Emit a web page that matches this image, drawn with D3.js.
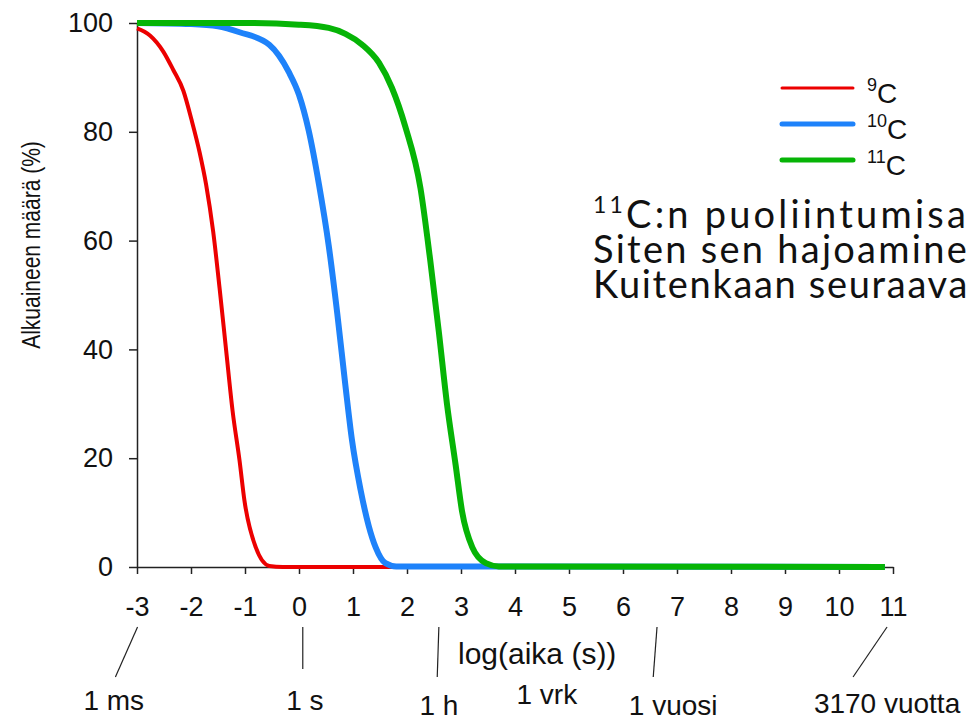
<!DOCTYPE html>
<html>
<head>
<meta charset="utf-8">
<script src="https://cdn.jsdelivr.net/npm/d3@7/dist/d3.min.js"></script>
<style>
  body { margin: 0; background: #fff; }
  svg { display: block; }
  text { font-family: "Liberation Sans", Arial, sans-serif; fill: #111; }
</style>
</head>
<body>
<svg id="chart" width="970" height="721"></svg>
<script>
/* -- data -- */
const xTicks = [-3, -2, -1, 0, 1, 2, 3, 4, 5, 6, 7, 8, 9, 10, 11];
const yTicks = [0, 20, 40, 60, 80, 100];

// 9C
const c9Log = [-3, -2.76, -2.51, -2.33, -2.14, -1.99, -1.84, -1.72, -1.59, -1.47, -1.35, -1.23, -1.10, -1.01, -0.80, -0.55, -0.3, 10.85];
const c9Pct = [99.0, 97.7, 94.7, 91.4, 87.5, 82.2, 76.2, 70.3, 61.7, 51.2, 39.9, 28.7, 19.5, 12.2, 3.6, 0.2, 0, 0];
// 10C
const c10Log = [-3, -2, -1.5, -1.10, -0.55, -0.19, 0, 0.18, 0.37, 0.55, 0.71, 0.86, 0.98, 1.14, 1.29, 1.42, 1.6, 1.8, 10.85];
const c10Pct = [100, 99.8, 99.4, 98.3, 96.0, 91.0, 86.8, 80.2, 70.3, 59.1, 46.5, 33.3, 23.4, 14.2, 7.6, 3.6, 0.7, 0.1, 0];
// 11C
const c11Log = [-3, -1, 0, 0.55, 0.86, 1.17, 1.48, 1.72, 1.97, 2.25, 2.43, 2.59, 2.74, 2.90, 3.02, 3.21, 3.46, 3.7, 10.85];
const c11Pct = [100, 100, 99.7, 99.1, 98.0, 96.0, 92.7, 88.1, 80.9, 69.6, 56.4, 43.2, 30.0, 18.8, 10.2, 3.6, 0.7, 0.1, 0];

const seriesNames = ["9", "10", "11"];          // mass numbers, shown as superscripts
const seriesColors = ["#ec0000", "#1e82fa", "#06b406"];
const seriesWidths = [4, 6, 6];

// time markers under the axis: label, log(t) where the pointer meets the axis,
// log(t) where the pointer ends, log(t) under which the label is centred
const markLabels = ["1 ms", "1 s", "1 h", "1 vrk", "1 vuosi", "3170 vuotta"];
const markTop    = [-2.99, 0.07, 2.59, null, 6.63, 10.89];
const markBottom = [-3.40, 0.07, 2.56, null, 6.56, 10.26];
const markAt     = [-3.43, 0.11, 2.59, 4.59, 6.93, 10.89];

const noteSup  = ["11", "", ""];
const noteText = ["C:n puoliintumisa", "Siten sen hajoamine", "Kuitenkaan seuraava"];

/* -- layout -- */
const W = 970, H = 721;
const M = { top: 23, right: 77, bottom: 154, left: 137 };
const svg = d3.select("#chart");

const x = d3.scaleLinear().domain([-3, 11]).range([M.left, W - M.right]);
const y = d3.scaleLinear().domain([0, 100]).range([H - M.bottom, M.top]);

/* -- axes -- */
const xAxis = svg.append("g")
  .attr("transform", `translate(0,${y(0)})`)
  .call(d3.axisBottom(x).tickValues(xTicks).tickFormat(d => String(d))
    .tickSize(7).tickSizeOuter(0).tickPadding(23));
const yAxis = svg.append("g")
  .attr("transform", `translate(${x(-3)},0)`)
  .call(d3.axisLeft(y).tickValues(yTicks).tickSize(8).tickSizeOuter(0).tickPadding(16));

[xAxis, yAxis].forEach(g => {
  g.selectAll("path, line").attr("stroke", "#222").attr("stroke-width", 1.5);
  g.selectAll("text").style("font-size", "27px").attr("fill", "#111");
});

svg.append("text")
  .attr("transform", `translate(40,245) rotate(-90) scale(1,1.25)`)
  .attr("text-anchor", "middle")
  .style("font-size", "21px")
  .text("Alkuaineen määrä (%)");

svg.append("text")
  .attr("x", 458).attr("y", 664)
  .style("font-size", "30px")
  .text("log(aika (s))");

/* -- curves -- */
const series = [
  c9Log.map((v, i) => [v, c9Pct[i]]),
  c10Log.map((v, i) => [v, c10Pct[i]]),
  c11Log.map((v, i) => [v, c11Pct[i]])
];

const line = d3.line()
  .x(d => x(d[0]))
  .y(d => y(d[1]))
  .curve(d3.curveMonotoneX);

svg.selectAll(".curve")
  .data(series)
  .enter().append("path")
  .attr("class", "curve")
  .attr("d", line)
  .attr("fill", "none")
  .attr("stroke", (d, i) => seriesColors[i])
  .attr("stroke-width", (d, i) => seriesWidths[i])
  .attr("stroke-linejoin", "round");

/* -- legend -- */
const legend = svg.append("g").attr("transform", "translate(782,88)");
seriesNames.forEach((name, i) => {
  const row = legend.append("g").attr("transform", `translate(0,${i * 36})`);
  row.append("line")
    .attr("x1", 0).attr("x2", 71).attr("y1", 0).attr("y2", 0)
    .attr("stroke", seriesColors[i])
    .attr("stroke-width", seriesWidths[i] - 1)
    .attr("stroke-linecap", "round");
  const t = row.append("text").attr("x", 85).attr("y", 15).style("font-size", "28px");
  t.append("tspan").style("font-size", "18px").attr("dy", -12).text(name);
  t.append("tspan").attr("dy", 12).text("C");
});

/* -- note text, one block, cut at the right edge -- */
const note = svg.append("text")
  .attr("y", 228)
  .style("font-family", "Lato, 'Open Sans', sans-serif")
  .style("font-size", "38px")
  .attr("fill", "#333");

noteText.forEach((txt, i) => {
  const parts = [];
  if (noteSup[i]) {
    parts.push(note.append("tspan").attr("x", 593).attr("dy", i ? 20 : -15)
      .style("font-size", "23px").text(noteSup[i]));
    parts.push(note.append("tspan").attr("dy", 15).text(txt));
  } else {
    parts.push(note.append("tspan").attr("x", 593).attr("dy", 35).text(txt));
  }
  const w = d3.sum(parts, p => p.node().getComputedTextLength());
  const n = (noteSup[i] + txt).length;
  parts.forEach(p => p.style("letter-spacing", ((376 - w) / n) + "px"));
});

/* -- time markers -- */
const markBase = [710, 710, 715, 704, 715, 713];
markLabels.forEach((lab, i) => {
  if (markTop[i] !== null) {
    svg.append("line")
      .attr("x1", x(markTop[i])).attr("y1", y(0) + 60)
      .attr("x2", x(markBottom[i])).attr("y2", y(0) + (i === 1 ? 102 : 110))
      .attr("stroke", "#222").attr("stroke-width", 1.2);
  }
  svg.append("text")
    .attr("x", x(markAt[i])).attr("y", markBase[i])
    .attr("text-anchor", "middle")
    .style("font-size", "28px")
    .text(lab);
});
</script>
</body>
</html>
